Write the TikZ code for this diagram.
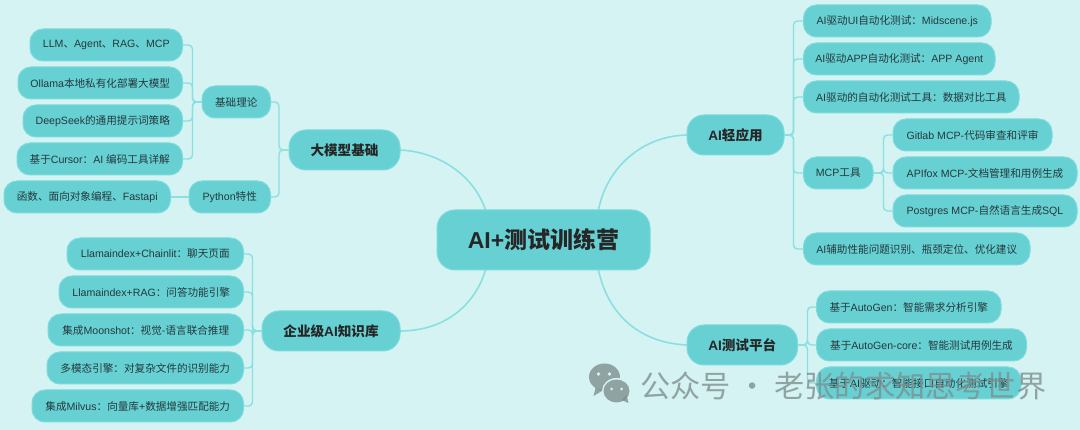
\documentclass[tikz,border=0pt]{standalone}
\usepackage{fontspec}
\setmainfont{Liberation Sans}
\newfontfamily\zhf{Noto Sans CJK SC}
\newcommand\zh[1]{{\zhf #1}}
\usetikzlibrary{calc}
\definecolor{bgc}{HTML}{D5F3F3}
\definecolor{nodec}{HTML}{66D0D3}
\definecolor{edgec}{HTML}{7BDBDD}
\definecolor{linec}{HTML}{8ADFE0}
\definecolor{txtc}{HTML}{25393B}
\definecolor{markc}{HTML}{7F8F8F}
\tikzset{
  box/.style={fill=nodec,draw=edgec,line width=1pt,inner sep=0pt,text=txtc,align=center},
  leaf/.style={box,rounded corners=13pt,font=\fontsize{10.6}{12}\selectfont},
  topic/.style={box,rounded corners=17pt,font=\fontsize{13.6}{15}\selectfont\bfseries,text=black!85},
  rootbox/.style={box,rounded corners=18pt,font=\fontsize{23}{26}\selectfont\bfseries,text=black!85},
  link/.style={draw=linec,line width=1.4pt,rounded corners=4pt},
  curve/.style={draw=linec,line width=1.6pt},
  wmtext/.style={text=markc,opacity=.8,font=\fontsize{30.2}{32}\selectfont},
  markbody/.style={fill=markc,opacity=.8,draw=none},
  markeye/.style={fill=bgc,draw=none}
}
\newcommand\nd[7][]{\node[#2,#1,minimum width={(#6-#4)*1pt},minimum height={(#7-#5)*1pt}] (#3) at ({(#4+#6)/2},{(#5+#7)/2})}
\begin{document}
\begin{tikzpicture}[x=1pt,y=-1pt]
\fill[bgc] (0,0) rectangle (1080,430);
\useasboundingbox (0,0) rectangle (1080,430);
\coordinate (rtl) at (485.5,210);
\coordinate (rtr) at (598.5,210);
\coordinate (rbl) at (485.5,270);
\coordinate (rbr) at (598.5,270);
\coordinate (ca) at (400,150);
\coordinate (cb) at (400,331);
\coordinate (cc) at (687,135);
\coordinate (cd) at (687,345);
\path[curve] (ca) .. controls (442,152) and (475,178) .. (rtl);
\path[curve] (cb) .. controls (445,331) and (475,305) .. (rbl);
\path[curve] (cc) .. controls (640,136) and (606,170) .. (rtr);
\path[curve] (cd) .. controls (640,343) and (608,315) .. (rbr);

\nd{rootbox}{root}{437}{210}{650}{270}{AI+\zh{测试训练营}};
\nd{topic}{t1}{289}{130}{400}{170}{\zh{大模型基础}};
\nd{topic}{t2}{262}{311}{400}{351}{\zh{企业级}AI\zh{知识库}};
\nd{topic}{t3}{687}{115}{784}{155}{AI\zh{轻应用}};
\nd{topic}{t4}{687}{325}{797.5}{365}{AI\zh{测试平台}};

\nd{leaf}{s1}{202}{86}{270.5}{118}{\zh{基础理论}};
\nd{leaf}{s2}{189}{181}{270.5}{213}{Python\zh{特性}};
\nd{leaf}{a1}{30}{29}{182.5}{61}{LLM\zh{、}Agent\zh{、}RAG\zh{、}MCP};
\nd{leaf}{a2}{18}{67}{182.5}{99}{Ollama\zh{本地私有化部署大模型}};
\nd{leaf}{a3}{23}{105}{182.5}{137}{DeepSeek\zh{的通用提示词策略}};
\nd{leaf}{a4}{17}{143}{182.5}{175}{\zh{基于}Cursor\zh{：}AI \zh{编码工具详解}};
\nd{leaf}{a5}{4}{181}{170.5}{213}{\zh{函数、面向对象编程、}Fastapi};

\nd{leaf}{b1}{67}{238}{243.5}{270}{Llamaindex+Chainlit\zh{：聊天页面}};
\nd{leaf}{b2}{59}{276}{243.5}{308}{Llamaindex+RAG\zh{：问答功能引擎}};
\nd{leaf}{b3}{48}{314}{243.5}{346}{\zh{集成}Moonshot\zh{：视觉-语言联合推理}};
\nd{leaf}{b4}{47}{352}{243.5}{384}{\zh{多模态引擎：对复杂文件的识别能力}};
\nd{leaf}{b5}{32}{390}{243.5}{422}{\zh{集成}Milvus\zh{：向量库}+\zh{数据增强匹配能力}};

\nd{leaf}{c1}{803.5}{5}{991}{37}{AI\zh{驱动}UI\zh{自动化测试：}Midscene.js};
\nd{leaf}{c2}{803.5}{43}{995}{75}{AI\zh{驱动}APP\zh{自动化测试：}APP Agent};
\nd{leaf}{c3}{803.5}{81}{1019}{113}{AI\zh{驱动的自动化测试工具：数据对比工具}};
\nd{leaf}{c4}{803.5}{157}{873}{189}{MCP\zh{工具}};
\nd{leaf}{c5}{803.5}{233}{1030}{265}{AI\zh{辅助性能问题识别、瓶颈定位、优化建议}};
\nd{leaf}{e1}{893}{119}{1052}{151}{Gitlab MCP-\zh{代码审查和评审}};
\nd{leaf}{e2}{893}{157}{1077}{189}{APIfox MCP-\zh{文档管理和用例生成}};
\nd{leaf}{e3}{893}{195}{1077}{227}{Postgres MCP-\zh{自然语言生成}SQL};

\nd{leaf}{d1}{816.5}{291}{1001}{323}{\zh{基于}AutoGen\zh{：智能需求分析引擎}};
\nd{leaf}{d2}{816.5}{329}{1026.5}{361}{\zh{基于}AutoGen-core\zh{：智能测试用例生成}};
\nd{leaf}{d3}{816.5}{367}{1021}{399}{\zh{基于}AI\zh{驱动：智能接口自动化测试引擎}};

\foreach \k in {s1,s2} \draw[link] (t1.west) -- ++(-9.5,0) |- (\k.east);
\foreach \k in {a1,a2,a3,a4} \draw[link] (s1.west) -- ++(-9,0) |- (\k.east);
\draw[link] (s2.west) -- (a5.east);
\foreach \k in {b1,b2,b3,b4,b5} \draw[link] (t2.west) -- ++(-9,0) |- (\k.east);
\foreach \k in {c1,c2,c3,c4,c5} \draw[link] (t3.east) -- ++(9,0) |- (\k.west);
\foreach \k in {e1,e2,e3} \draw[link] (c4.east) -- ++(10,0) |- (\k.west);
\foreach \k in {d1,d2,d3} \draw[link] (t4.east) -- ++(9.5,0) |- (\k.west);

% watermark
\node[wmtext,anchor=west,inner sep=0pt] (wm) at (640,386) {\zh{公众号 · 老张的求知思考世界}};
\begin{scope}[shift={(1.5,0)}]
\fill[markbody] (603,377) ellipse (15.5 and 13.5);
\fill[markbody] (594,388) -- (592,396) -- (602,390) -- cycle;
\fill[bgc] (615,391) ellipse (14.5 and 13);
\fill[markbody] (615,391) ellipse (13 and 11.5);
\fill[markbody] (620,400) -- (627,403) -- (625,395) -- cycle;
\fill[markeye] (597,374) circle (1.8);
\fill[markeye] (608,374) circle (1.8);
\fill[markeye] (610,389) circle (1.5);
\fill[markeye] (620,389) circle (1.5);
\end{scope}
\end{tikzpicture}
\end{document}
